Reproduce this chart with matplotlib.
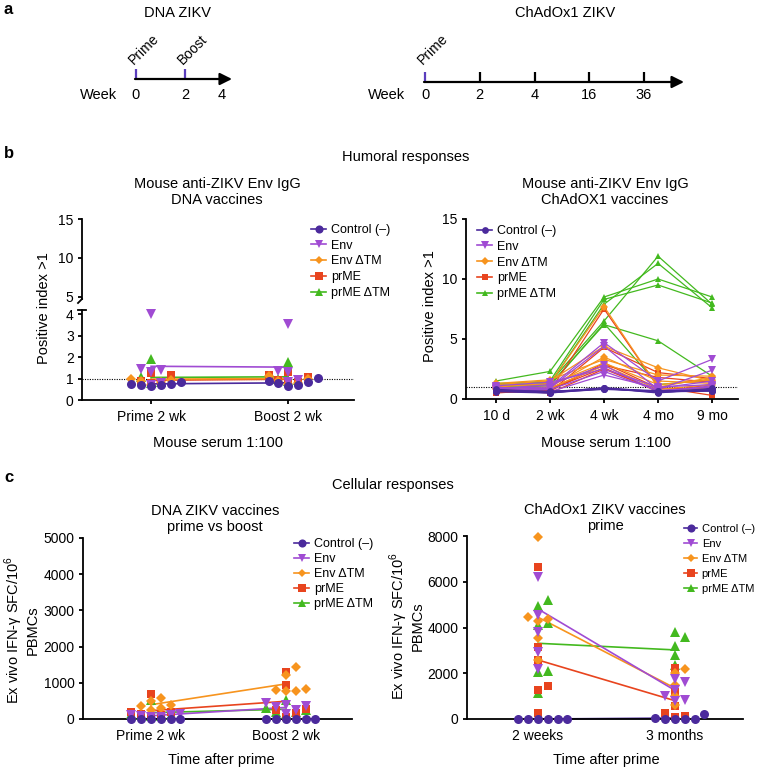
"""Vaccine schedule plus humoral / cellular ZIKV responses (panels a-c)."""
import matplotlib
matplotlib.use("Agg")
import matplotlib.pyplot as plt
from matplotlib.lines import Line2D

W, H = 759, 768
plt.rcParams["font.family"] = ["Liberation Sans", "DejaVu Sans"]
plt.rcParams["mathtext.fontset"] = "custom"
plt.rcParams["mathtext.rm"] = "Liberation Sans"
plt.rcParams["font.size"] = 10

GROUPS = ["Control (–)", "Env", "Env ΔTM", "prME", "prME ΔTM"]
COLORS = ["#4b2a9c", "#a04bd3", "#f7941e", "#e8441e", "#43b91f"]
MARKERS = ["o", "v", "D", "s", "^"]
MSIZE = [6.5, 7, 5, 6, 6.5]
PURPLE = "#5a3dbd"

# a: vaccination schedules
DNA_WEEKS = ["0", "2", "4"]
DNA_EVENTS = ["Prime", "Boost"]
CHAD_WEEKS = ["0", "2", "4", "16", "36"]
CHAD_EVENTS = ["Prime"]

# b: humoral, DNA vaccines -- one list per group (Control, Env, Env dTM, prME, prME dTM)
IGG_DNA_CATS = ["Prime 2 wk", "Boost 2 wk"]
IGG_DNA_PRIME = [
    [0.76, 0.70, 0.66, 0.68, 0.75, 0.85],
    [4.0, 1.38, 1.30, 1.42, 0.80, 0.72],
    [0.95, 0.90, 0.72, 1.0, 0.85],
    [1.27, 1.18, 0.85, 0.80, 0.90],
    [1.05, 1.9, 0.85, 0.80],
]
IGG_DNA_BOOST = [
    [0.88, 0.80, 0.65, 0.71, 0.85, 1.03],
    [3.55, 1.36, 1.30, 0.95, 0.85],
    [1.0, 0.9, 0.75, 1.1, 0.8],
    [1.29, 1.15, 1.05, 0.95, 0.85, 0.78],
    [1.77, 0.95, 0.90, 1.0],
]
IGG_DNA_MEAN_PRIME = [0.75, 1.57, 0.97, 0.92, 1.05]
IGG_DNA_MEAN_BOOST = [0.80, 1.53, 1.00, 0.97, 1.08]

# b: humoral, ChAdOx1 vaccines -- one row per mouse
IGG_CHAD_CATS = ["10 d", "2 wk", "4 wk", "4 mo", "9 mo"]
IGG_CHAD_CONTROL = [
    [0.70, 0.50, 0.85, 0.60, 0.70],
    [0.65, 0.60, 0.90, 0.55, 0.75],
    [0.75, 0.55, 0.80, 0.65, 0.80],
    [0.60, 0.50, 0.95, 0.60, 0.65],
    [0.70, 0.65, 0.85, 0.70, 0.70],
    [0.80, 0.60, 0.90, 0.50, 0.90],
]
IGG_CHAD_ENV = [
    [0.90, 1.00, 4.70, 1.50, 3.30],
    [0.80, 0.90, 4.40, 0.80, 2.40],
    [1.10, 1.40, 2.50, 1.00, 1.20],
    [0.70, 0.80, 2.30, 0.70, 1.00],
    [1.00, 0.60, 2.00, 0.90, 1.50],
    [0.85, 1.20, 2.80, 0.60, 1.10],
]
IGG_CHAD_ENV_DTM = [
    [1.00, 1.30, 7.70, 1.00, 1.80],
    [1.20, 1.50, 4.40, 2.60, 1.50],
    [0.90, 1.00, 3.50, 1.50, 1.30],
    [1.10, 1.20, 3.00, 1.20, 1.60],
    [0.80, 0.90, 2.80, 0.80, 1.20],
    [1.30, 1.60, 3.30, 2.00, 1.90],
]
IGG_CHAD_PRME = [
    [0.60, 0.70, 7.50, 1.00, 0.30],
    [0.70, 0.60, 4.30, 2.20, 1.70],
    [0.50, 0.80, 2.60, 0.60, 1.20],
    [0.80, 0.50, 2.50, 0.70, 1.00],
    [0.65, 0.90, 2.80, 1.80, 1.40],
    [0.55, 0.65, 3.00, 0.90, 0.80],
]
IGG_CHAD_PRME_DTM = [
    [1.50, 2.30, 8.50, 10.00, 8.50],
    [1.20, 1.50, 8.30, 9.50, 8.00],
    [1.30, 1.40, 6.50, 11.90, 7.90],
    [1.10, 1.30, 7.90, 11.30, 7.60],
    [1.00, 1.20, 6.20, 4.85, 1.90],
    [0.90, 1.10, 6.30, 1.20, 1.60],
]

# c: cellular, DNA vaccines (SFC / 10^6 PBMCs)
SFC_DNA_CATS = ["Prime 2 wk", "Boost 2 wk"]
SFC_DNA_PRIME = [
    [0, 0, 0, 0, 0, 0],
    [100, 50, 120, 80, 60, 130],
    [500, 580, 360, 300, 250, 380],
    [200, 130, 700, 70, 120, 180],
    [520, 150, 100, 80, 120, 80],
]
SFC_DNA_BOOST = [
    [0, 0, 0, 0, 0, 0],
    [450, 250, 150, 400, 350, 320],
    [1450, 1220, 820, 780, 800, 760],
    [1300, 930, 290, 260, 170, 50],
    [520, 250, 200, 150, 300, 200],
]
SFC_DNA_MEAN_PRIME = [0, 90, 395, 230, 175]
SFC_DNA_MEAN_BOOST = [0, 320, 970, 490, 270]

# c: cellular, ChAdOx1 vaccines
SFC_CHAD_CATS = ["2 weeks", "3 months"]
SFC_CHAD_2WK = [
    [0, 0, 0, 0, 0, 0],
    [6200, 4550, 3800, 2950, 2200],
    [7950, 4450, 4300, 4350, 3550, 2600],
    [6650, 3150, 2600, 1450, 1250, 280],
    [5200, 4950, 4200, 4100, 2100, 2050, 1150],
]
SFC_CHAD_3MO = [
    [60, 0, 0, 0, 0, 230],
    [1600, 1750, 1270, 1000, 820, 800],
    [2200, 2000, 1500, 1000, 600],
    [2250, 1200, 550, 280, 150, 100],
    [3200, 3580, 3800, 2800, 2350],
]
SFC_CHAD_MEAN_2WK = [0, 4810, 4450, 2580, 3310]
SFC_CHAD_MEAN_3MO = [40, 1250, 1350, 800, 3020]

fig = plt.figure(figsize=(W / 100, H / 100), dpi=100)


def px_axes(x0, y0, x1, y1):
    return fig.add_axes([x0 / W, 1 - y1 / H, (x1 - x0) / W, (y1 - y0) / H])


def style(ax):
    for s in ("top", "right"):
        ax.spines[s].set_visible(False)
    for s in ("left", "bottom"):
        ax.spines[s].set_linewidth(1.3)
    ax.tick_params(direction="out", length=3, width=1.3, labelsize=10, pad=3)
    ax.patch.set_alpha(0)


def swarm(values, center, px_x, px_y, step=9.8, dmin=9.0):
    # GraphPad-like: sorted values, first free slot in 0, +1, -1, +2, -2 ...
    order = [0]
    for i in range(1, 20):
        order += [i, -i]
    placed, xs, ys = [], [], []
    for v in sorted(values):
        yp = v * px_y
        for slot in order:
            if all(abs(yp - q) >= dmin for s, q in placed if s == slot):
                break
        placed.append((slot, yp))
        xs.append(center + slot * step / px_x)
        ys.append(v)
    return xs, ys


def dot_panel(ax, per_cat, means, px_x, px_y):
    for g in (4, 3, 2, 1, 0):
        z = 3 + (4 - g) * 0.1
        for ci, groups in enumerate(per_cat):
            xs, ys = swarm(groups[g], ci, px_x, px_y)
            ax.plot(xs, ys, ls="none", marker=MARKERS[g], ms=MSIZE[g],
                    color=COLORS[g], mew=0, clip_on=False, zorder=z)
        ax.plot(range(len(means)), [m[g] for m in means], color=COLORS[g],
                lw=1.2, zorder=z - 1, clip_on=False)


def legend(ax, x, y, ms_scale=0.9, fontsize=9, spacing=0.3):
    handles = [Line2D([], [], color=c, marker=m, ms=s * ms_scale, mew=0, lw=1.2)
               for c, m, s in zip(COLORS, MARKERS, MSIZE)]
    ax.legend(handles, GROUPS, loc="upper left", bbox_to_anchor=(x / W, 1 - y / H),
              bbox_transform=fig.transFigure, frameon=False, fontsize=fontsize,
              handlelength=1.2, handletextpad=0.4, labelspacing=spacing,
              borderpad=0, borderaxespad=0)


# overlay in pixel coordinates for schedule, headings and axis breaks
ov = px_axes(0, 0, W, H)
ov.set_xlim(0, W)
ov.set_ylim(H, 0)
ov.axis("off")


def ftext(x, y, s, **kw):
    ov.text(x, y, s, **kw)


def arrow(x0, x1, y):
    ov.annotate("", xy=(x1, y), xytext=(x0 - 1, y),
                arrowprops=dict(arrowstyle="-|>,head_length=0.6,head_width=0.3",
                                mutation_scale=12, lw=1.6, color="k",
                                shrinkA=0, shrinkB=0))


# ---- a ----
ftext(4, 9, "a", fontsize=12, fontweight="bold", va="center")
ftext(177, 13, "DNA ZIKV", fontsize=10.5, ha="center", va="center")
ftext(565, 13, "ChAdOx1 ZIKV", fontsize=10.5, ha="center", va="center")

y = 79
arrow(136, 232, y)
dna_x = [136 + 49 * i for i in range(len(DNA_EVENTS))]
for x, ev in zip(dna_x, DNA_EVENTS):
    ov.plot([x, x], [y, y - 10], color=PURPLE, lw=1.6, solid_capstyle="butt")
    ftext(x - 2, y - 14, ev, rotation=45, rotation_mode="anchor",
          ha="left", va="baseline", fontsize=10)
for x, w in zip(dna_x + [222], DNA_WEEKS):
    ftext(x, 95, w, ha="center", va="center", fontsize=10.5)
ftext(117, 95, "Week", ha="right", va="center", fontsize=10.5)

y = 82
arrow(425, 684, y)
chad_x = [425 + 54.75 * i for i in range(len(CHAD_WEEKS))]
for i, (x, w) in enumerate(zip(chad_x, CHAD_WEEKS)):
    ov.plot([x, x], [y, y - 10], color=PURPLE if i < len(CHAD_EVENTS) else "k",
            lw=1.6, solid_capstyle="butt")
    ftext(x, 95, w, ha="center", va="center", fontsize=10.5)
for x, ev in zip(chad_x, CHAD_EVENTS):
    ftext(x - 2, y - 17, ev, rotation=45, rotation_mode="anchor",
          ha="left", va="baseline", fontsize=10)
ftext(405, 95, "Week", ha="right", va="center", fontsize=10.5)

# ---- b ----
ftext(4, 153, "b", fontsize=12, fontweight="bold", va="center")
ftext(406, 157, "Humoral responses", fontsize=10.5, ha="center", va="center")

ftext(217, 192, "Mouse anti-ZIKV Env IgG\nDNA vaccines", fontsize=10.5,
      ha="center", va="center", linespacing=1.25)
ax_top = px_axes(82, 219, 354, 299)
ax_bot = px_axes(82, 310, 354, 400)
for ax in (ax_top, ax_bot):
    style(ax)
    ax.set_xlim(-0.504, 1.48)
ax_top.spines["bottom"].set_visible(False)
ax_top.set_xticks([])
ax_top.set_ylim(4.74, 15)
ax_top.set_yticks([5, 10, 15])
ax_bot.set_ylim(0, 4.19)
ax_bot.set_yticks(range(5))
ax_bot.set_xticks(range(len(IGG_DNA_CATS)))
ax_bot.set_xticklabels(IGG_DNA_CATS)
ax_bot.tick_params(axis="x", pad=4)
ax_bot.axhline(1, color="k", ls=(0, (1, 1.2)), lw=0.8, zorder=1)
dot_panel(ax_bot, [IGG_DNA_PRIME, IGG_DNA_BOOST],
          [IGG_DNA_MEAN_PRIME, IGG_DNA_MEAN_BOOST], 137, 21.5)
legend(ax_top, 311, 224)
# axis break marks
ov.plot([82, 78], [299, 303], color="k", lw=1.3)
ov.plot([78, 86], [310, 310], color="k", lw=1.3)
ftext(44, 308, "Positive index >1", rotation=90, ha="center", va="center",
      fontsize=10.5)
ftext(218, 443, "Mouse serum 1:100", ha="center", va="center", fontsize=10.5)

ftext(605, 192, "Mouse anti-ZIKV Env IgG\nChAdOX1 vaccines", fontsize=10.5,
      ha="center", va="center", linespacing=1.25)
ax = px_axes(466, 219, 738, 399)
style(ax)
ax.set_xlim(-0.556, 4.48)
ax.set_ylim(0, 15)
ax.set_yticks([0, 5, 10, 15])
ax.set_xticks(range(len(IGG_CHAD_CATS)))
ax.set_xticklabels(IGG_CHAD_CATS)
ax.tick_params(axis="x", pad=4)
ax.axhline(1, color="k", ls=(0, (1, 1.2)), lw=0.8, zorder=1)
chad_groups = [IGG_CHAD_CONTROL, IGG_CHAD_ENV, IGG_CHAD_ENV_DTM,
               IGG_CHAD_PRME, IGG_CHAD_PRME_DTM]
for g in (4, 3, 1, 2, 0):
    for mouse in chad_groups[g]:
        ax.plot(range(len(mouse)), mouse, color=COLORS[g], marker=MARKERS[g],
                ms=MSIZE[g] * 0.75, mew=0, lw=0.9, clip_on=False,
                zorder=3 + (4 - g) * 0.1)
legend(ax, 477, 225, ms_scale=0.75)
ftext(430, 306, "Positive index >1", rotation=90, ha="center", va="center",
      fontsize=10.5)
ftext(606, 443, "Mouse serum 1:100", ha="center", va="center", fontsize=10.5)

# ---- c ----
ftext(4, 477, "c", fontsize=12, fontweight="bold", va="center")
ftext(393, 485, "Cellular responses", fontsize=10.5, ha="center", va="center")
ylab = "Ex vivo IFN-γ SFC/10$^6$\nPBMCs"

ftext(215, 519, "DNA ZIKV vaccines\nprime vs boost", fontsize=10.5,
      ha="center", va="center", linespacing=1.25)
ax = px_axes(83, 538, 352, 719)
style(ax)
ax.set_xlim(-0.504, 1.489)
ax.set_ylim(0, 5000)
ax.set_yticks(range(0, 5001, 1000))
ax.set_xticks(range(len(SFC_DNA_CATS)))
ax.set_xticklabels(SFC_DNA_CATS)
ax.tick_params(axis="x", pad=4)
dot_panel(ax, [SFC_DNA_PRIME, SFC_DNA_BOOST],
          [SFC_DNA_MEAN_PRIME, SFC_DNA_MEAN_BOOST], 135, 181 / 5000)
legend(ax, 294, 538, spacing=0.25)
ftext(21, 630, ylab, rotation=90, ha="center", va="center", fontsize=10.5,
      linespacing=1.1)
ftext(221, 760, "Time after prime", ha="center", va="center", fontsize=10.5)

ftext(605, 518, "ChAdOx1 ZIKV vaccines\nprime", fontsize=10.5,
      ha="center", va="center", linespacing=1.25)
ax = px_axes(467, 536, 743, 719)
style(ax)
ax.set_xlim(-0.518, 1.496)
ax.set_ylim(0, 8000)
ax.set_yticks(range(0, 8001, 2000))
ax.set_xticks(range(len(SFC_CHAD_CATS)))
ax.set_xticklabels(SFC_CHAD_CATS)
ax.tick_params(axis="x", pad=4)
dot_panel(ax, [SFC_CHAD_2WK, SFC_CHAD_3MO],
          [SFC_CHAD_MEAN_2WK, SFC_CHAD_MEAN_3MO], 137, 183 / 8000)
legend(ax, 684, 524, fontsize=8, spacing=0.45)
ftext(406, 626, ylab, rotation=90, ha="center", va="center", fontsize=10.5,
      linespacing=1.1)
ftext(606, 760, "Time after prime", ha="center", va="center", fontsize=10.5)

fig.savefig("out.png", dpi=100)
